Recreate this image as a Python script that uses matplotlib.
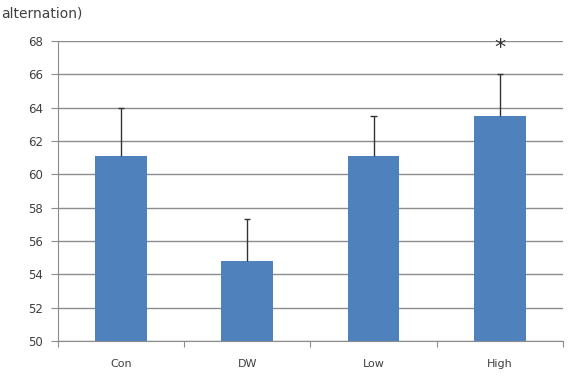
import matplotlib
matplotlib.use('Agg')
import matplotlib.pyplot as plt

groups = ['Con', 'DW', 'Low', 'High']
means = [61.1, 54.8, 61.1, 63.5]
errors = [2.9, 2.5, 2.4, 2.5]
stars = ['', '', '', '*']

fig = plt.figure(figsize=(5.77, 3.83), dpi=100)
ax = fig.add_axes([0.1005, 0.1097, 0.875, 0.7833])

x = list(range(len(groups)))
tops = [m + e for m, e in zip(means, errors)]
ax.bar(x, [m - 50 for m in means], bottom=50, width=0.41, color='#4F81BD', zorder=3)
# upper error bars only
ax.vlines(x, means, tops, color='#333333', linewidth=1, zorder=4)
ax.hlines(tops, [i - 0.025 for i in x], [i + 0.025 for i in x],
          color='#333333', linewidth=1, zorder=4)
for i, s in enumerate(stars):
    if s:
        ax.text(i, tops[i] + 1.55, s, ha='center', va='center',
                fontsize=16, color='#333333')

ax.set_xlim(-0.5, 3.5)
ax.set_ylim(50, 68)
ax.set_yticks(range(50, 69, 2))
ax.yaxis.grid(True, color='#8c8c8c', linewidth=1)
ax.set_axisbelow(True)

ax.set_xticks([-0.5, 0.5, 1.5, 2.5, 3.5])
ax.set_xticklabels([])
ax.set_xticks(x, minor=True)
ax.set_xticklabels(groups, minor=True)
ax.tick_params(axis='x', which='minor', length=0, pad=13, labelsize=8, labelcolor='#404040')
ax.tick_params(axis='x', which='major', length=4, color='#8c8c8c')
ax.tick_params(axis='y', length=5, color='#8c8c8c', labelsize=8.5, labelcolor='#404040', pad=6)

for side in ['top', 'right']:
    ax.spines[side].set_visible(False)
for side in ['left', 'bottom']:
    ax.spines[side].set_color('#8c8c8c')

fig.text(0.002, 0.965, 'alternation)', fontsize=10, color='#404040', ha='left', va='center')

fig.savefig('out.png', dpi=100)
